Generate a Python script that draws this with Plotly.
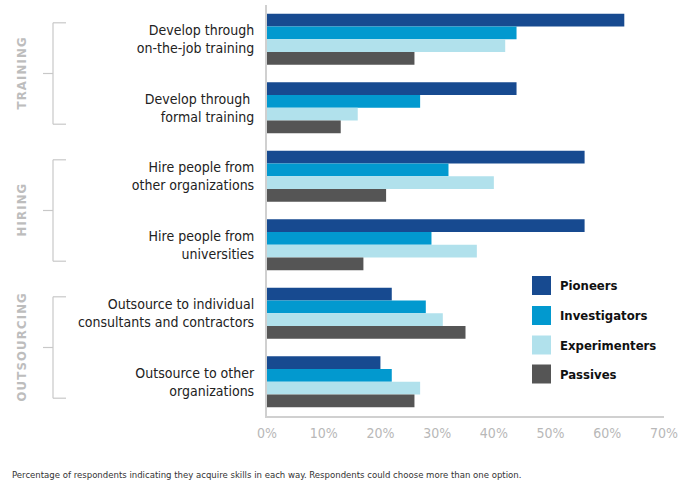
import plotly.graph_objects as go

categories = [
    "Develop through<br>on-the-job training",
    "Develop through <br>formal training",
    "Hire people from<br>other organizations",
    "Hire people from<br>universities",
    "Outsource to individual<br>consultants and contractors",
    "Outsource to other<br>organizations",
]
series_names = ["Pioneers", "Investigators", "Experimenters", "Passives"]
pioneers = [63, 44, 56, 56, 22, 20]
investigators = [44, 27, 32, 29, 28, 22]
experimenters = [42, 16, 40, 37, 31, 27]
passives = [26, 13, 21, 17, 35, 26]
groups = ["TRAINING", "HIRING", "OUTSOURCING"]
group_spans = [(0, 1), (2, 3), (4, 5)]
x_ticks = [0, 10, 20, 30, 40, 50, 60, 70]
footnote = ("Percentage of respondents indicating they acquire skills in each way. "
            "Respondents could choose more than one option.")

colors = ["#174a90", "#0299cf", "#b1e1ec", "#555555"]
values = [pioneers, investigators, experimenters, passives]

CAT_FONT = "DejaVu Sans Condensed, sans-serif"

fig = go.Figure()
ypos = list(range(len(categories)))
for name, vals, col in zip(series_names, values, colors):
    fig.add_trace(go.Bar(
        y=ypos, x=vals, name=name, orientation="h",
        marker=dict(color=col, line=dict(width=0)),
        showlegend=False, hoverinfo="x+name",
    ))

W, H = 691, 483
L, R, T, B = 267, 27, 5, 67
pw, ph = W - L - R, H - T - B

def px_x(p):
    return (p - L) / pw

def px_y(p):
    return (H - B - p) / ph

shapes = []
annotations = []
line_col = "#c8c8c8"
for g, (a, b) in zip(groups, group_spans):
    y0 = a - 0.24
    y1 = b + 0.24
    xv = px_x(53)
    xe = px_x(66)
    xm = px_x(43)
    ym = (y0 + y1) / 2
    for (x0, x1, ya, yb) in [(xv, xv, y0, y1), (xv, xe, y0, y0), (xv, xe, y1, y1), (xm, xv, ym, ym)]:
        shapes.append(dict(type="line", xref="paper", yref="y", x0=x0, x1=x1, y0=ya, y1=yb,
                           line=dict(color=line_col, width=1.2)))
    annotations.append(dict(
        text="\u200a".join(g), xref="paper", yref="y", x=px_x(21), y=ym,
        textangle=-90, showarrow=False, xanchor="center", yanchor="middle",
        font=dict(family=CAT_FONT, size=13, color="#bdbdbd", weight="bold"),
    ))

# legend drawn manually
leg_centers = [285.5, 315.5, 345, 374]
for name, col, cy in zip(series_names, colors, leg_centers):
    shapes.append(dict(type="rect", xref="paper", yref="paper",
                       x0=px_x(532), x1=px_x(551), y0=px_y(cy + 9.5), y1=px_y(cy - 9.5),
                       fillcolor=col, line=dict(width=0)))
    annotations.append(dict(
        text=name, xref="paper", yref="paper", x=px_x(558), y=px_y(cy),
        xanchor="left", yanchor="middle", showarrow=False,
        font=dict(family=CAT_FONT, size=13, color="#111111", weight="bold"),
    ))

annotations.append(dict(
    text=footnote, xref="paper", yref="paper", x=px_x(10), y=px_y(474),
    xanchor="left", yanchor="middle", showarrow=False,
    font=dict(family=CAT_FONT, size=9.5, color="#333333"),
))

fig.update_layout(
    width=W, height=H,
    margin=dict(l=L, r=R, t=T, b=B, pad=0),
    paper_bgcolor="white", plot_bgcolor="white",
    barmode="group", bargap=0.255, bargroupgap=0,
    shapes=shapes, annotations=annotations,
    showlegend=False,
    xaxis=dict(
        range=[0, 70], tickvals=x_ticks, ticktext=[f"{v}%" for v in x_ticks],
        showgrid=False, zeroline=False, showline=True, linecolor="#d0d0d0", linewidth=2,
        tickfont=dict(family=CAT_FONT, size=14, color="#b8b8b8"),
        ticks="", ticklabelstandoff=3, layer="below traces", fixedrange=True,
    ),
    yaxis=dict(
        range=[5.5, -0.5], tickvals=ypos, ticktext=categories,
        showgrid=False, zeroline=False, showline=True, linecolor="#d0d0d0", linewidth=2,
        tickfont=dict(family=CAT_FONT, size=14, color="#222222"),
        ticks="", ticklabelstandoff=8, layer="below traces", fixedrange=True,
    ),
)

fig.write_html("out.html")
